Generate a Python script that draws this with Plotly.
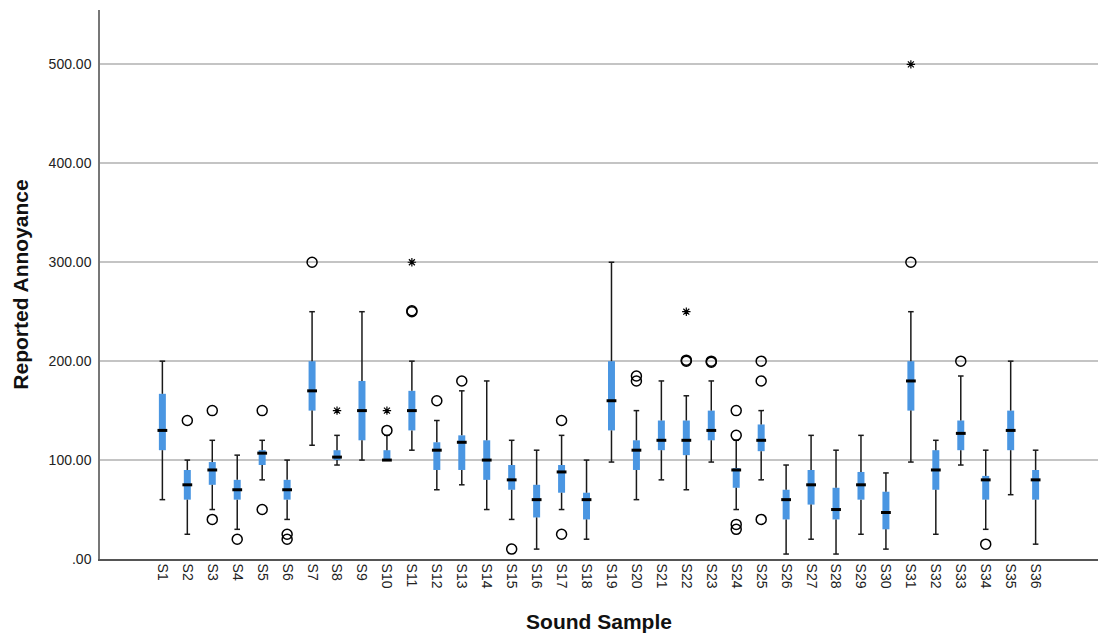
import plotly.graph_objects as go

samples = [f"S{i}" for i in range(1, 37)]
q1 = [110, 60, 75, 60, 95, 60, 150, 100, 120, 100, 130, 90, 90, 80, 70, 42, 67, 40,
      130, 90, 110, 105, 120, 72, 109, 40, 55, 40, 60, 30, 150, 70, 110, 60, 110, 60]
median = [130, 75, 90, 70, 107, 70, 170, 103, 150, 100, 150, 110, 118, 100, 80, 60, 88, 60,
          160, 110, 120, 120, 130, 90, 120, 60, 75, 50, 75, 47, 180, 90, 127, 80, 130, 80]
q3 = [167, 90, 98, 80, 110, 80, 200, 110, 180, 110, 170, 118, 125, 120, 95, 75, 95, 67,
      200, 120, 140, 140, 150, 92, 136, 70, 90, 72, 88, 68, 200, 110, 140, 84, 150, 90]
whisk_lo = [60, 25, 50, 30, 80, 40, 115, 95, 100, 100, 110, 70, 75, 50, 40, 10, 50, 20,
            98, 60, 80, 70, 98, 50, 80, 5, 20, 5, 25, 10, 98, 25, 95, 30, 65, 15]
whisk_hi = [200, 100, 120, 105, 120, 100, 250, 125, 250, 125, 200, 140, 170, 180, 120, 110, 125, 100,
            300, 150, 180, 165, 180, 120, 150, 95, 125, 110, 125, 87, 250, 120, 185, 110, 200, 110]

circle_sample = ["S2", "S3", "S3", "S4", "S5", "S5", "S6", "S6", "S7", "S10", "S11", "S11",
                 "S12", "S13", "S15", "S17", "S17", "S20", "S20", "S22", "S22", "S23", "S23",
                 "S24", "S24", "S24", "S24", "S25", "S25", "S25", "S31", "S33", "S34"]
circle_value = [140, 150, 40, 20, 150, 50, 25, 20, 300, 130, 250, 251,
                160, 180, 10, 140, 25, 185, 180, 200, 201, 200, 199,
                150, 125, 35, 30, 200, 180, 40, 300, 200, 15]
star_sample = ["S8", "S10", "S11", "S22", "S31"]
star_value = [150, 150, 300, 250, 500]

y_ticks = [0, 100, 200, 300, 400, 500]
y_ticktext = [".00", "100.00", "200.00", "300.00", "400.00", "500.00"]

pos = {s: i + 1 for i, s in enumerate(samples)}
xs = [pos[s] for s in samples]

BLUE = "#4A96E2"
INK = "#1a1a1a"

fig = go.Figure()

# boxes (interquartile range)
fig.add_trace(go.Bar(x=xs, y=[b - a for a, b in zip(q1, q3)], base=q1, width=0.28,
                     marker=dict(color=BLUE, line=dict(width=0)), hoverinfo="skip"))

# whiskers (outside box)
wx, wy = [], []
for x, lo, a, b, hi in zip(xs, whisk_lo, q1, q3, whisk_hi):
    if lo < a:
        wx += [x, x, None]
        wy += [lo, a, None]
    if hi > b:
        wx += [x, x, None]
        wy += [b, hi, None]
fig.add_trace(go.Scatter(x=wx, y=wy, mode="lines", line=dict(color=INK, width=1.5),
                         hoverinfo="skip"))

# whisker caps
fig.add_trace(go.Scatter(x=xs + xs, y=whisk_lo + whisk_hi, mode="markers",
                         marker=dict(symbol="line-ew", size=4, line=dict(color=INK, width=1.5)),
                         hoverinfo="skip"))

# medians
fig.add_trace(go.Scatter(x=xs, y=median, mode="markers",
                         marker=dict(symbol="line-ew", size=7, line=dict(color="black", width=3)),
                         hoverinfo="skip"))

# outliers
fig.add_trace(go.Scatter(x=[pos[s] for s in circle_sample], y=circle_value, mode="markers",
                         marker=dict(symbol="circle-open", size=10, color="black",
                                     line=dict(color="black", width=1.5))))
fig.add_trace(go.Scatter(x=[pos[s] for s in star_sample], y=star_value, mode="markers",
                         marker=dict(symbol="asterisk-open", size=7, color="black",
                                     line=dict(color="black", width=1.2))))

fig.update_layout(
    width=1101, height=635,
    margin=dict(l=100, r=3, t=10, b=76),
    plot_bgcolor="white", paper_bgcolor="white",
    showlegend=False,
    font=dict(family="Liberation Sans, Arial, sans-serif", size=14, color="#222"),
    xaxis=dict(
        range=[-1.5, 38.5], tickmode="array", tickvals=xs, ticktext=samples,
        tickangle=90, showgrid=False, zeroline=False, showline=True,
        linecolor="#555", linewidth=1.5, ticks="", automargin=False,
        tickfont=dict(size=14),
        title=dict(text="<b>Sound Sample</b>", font=dict(size=21, color="#111"), standoff=27),
    ),
    yaxis=dict(
        range=[0, 555], tickmode="array", tickvals=y_ticks, ticktext=y_ticktext,
        showgrid=True, gridcolor="#c4c4c4", gridwidth=1.5, zeroline=False,
        showline=True, linecolor="#777", linewidth=1.5, ticks="", automargin=False,
        tickfont=dict(size=14), ticklabelstandoff=4,
        title=dict(text="<b>Reported Annoyance</b>", font=dict(size=21, color="#111"), standoff=14),
    ),
)

fig.write_html("out.html", config={"displayModeBar": False},
               post_script="document.body.style.margin='0';document.body.style.overflow='hidden';")
